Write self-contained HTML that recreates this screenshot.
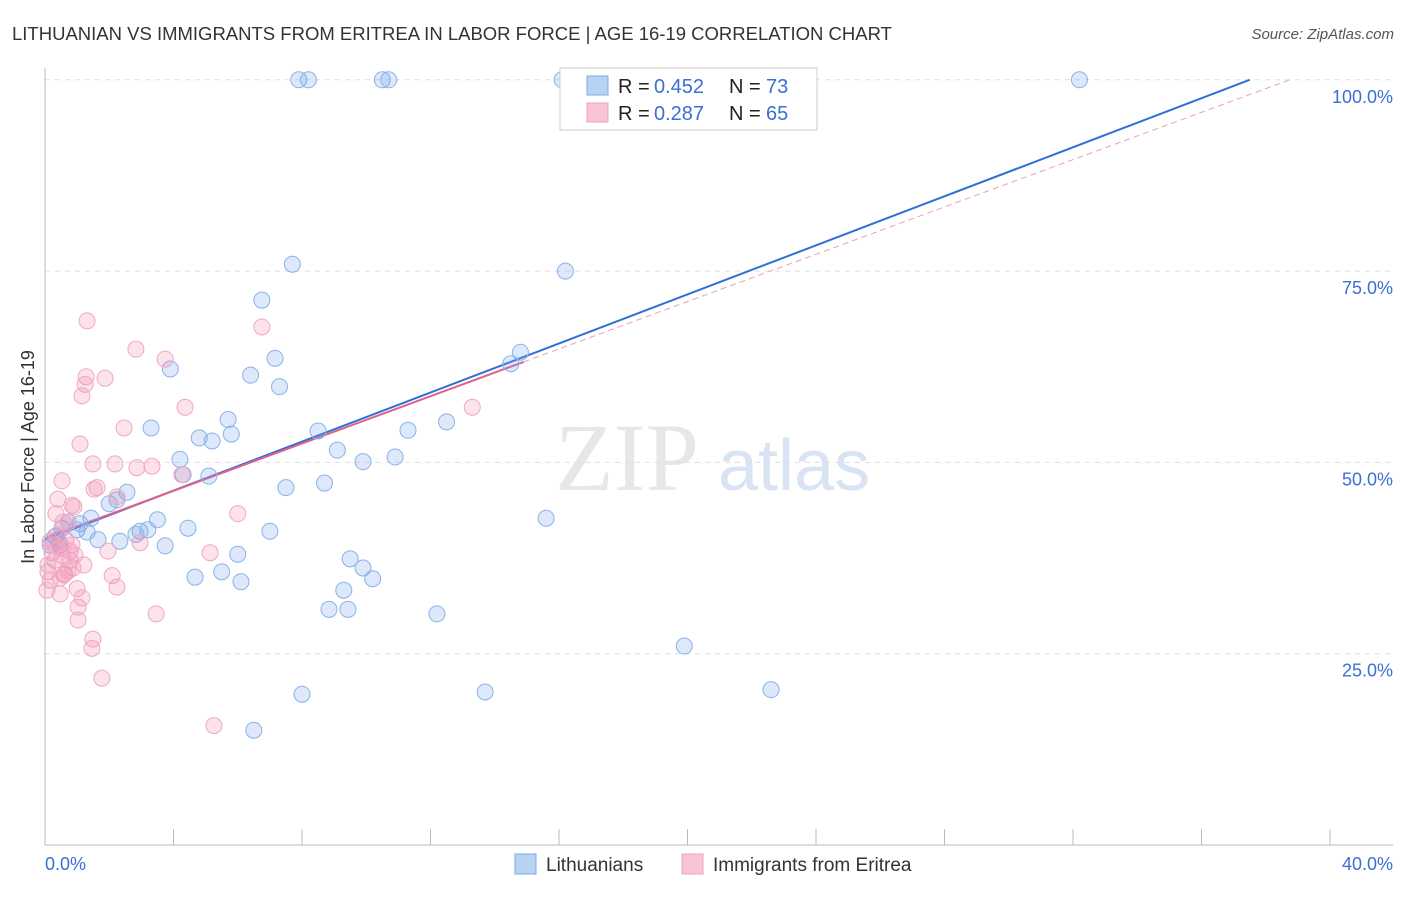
<!DOCTYPE html>
<html><head><meta charset="utf-8"><style>
body{margin:0;background:#fff;font-family:"Liberation Sans",sans-serif}
</style></head><body>
<svg id="chart" width="1406" height="892" xmlns="http://www.w3.org/2000/svg" font-family="Liberation Sans, sans-serif">
<text x="12" y="40" font-size="18.5" fill="#333">LITHUANIAN VS IMMIGRANTS FROM ERITREA IN LABOR FORCE | AGE 16-19 CORRELATION CHART</text>
<text x="1394" y="39" font-size="15" fill="#555" font-style="italic" text-anchor="end">Source: ZipAtlas.com</text>
<g>
<text x="555" y="490" font-size="96" fill="#ddd" font-family="Liberation Serif, serif" opacity="0.7">ZIP</text>
<text x="718" y="490" font-size="72" fill="#c8d8f0" opacity="0.7">atlas</text>
</g>
<g id="grid"></g>
<g id="axes"></g>
<g id="lines"></g>
<g id="pts"></g>
<text transform="translate(34,457) rotate(-90)" font-size="18" fill="#333" text-anchor="middle">In Labor Force | Age 16-19</text>
<text x="45" y="870" font-size="18" fill="#3b6fd4">0.0%</text>
<text x="1393" y="870" font-size="18" fill="#3b6fd4" text-anchor="end">40.0%</text>
<g>
<rect x="560" y="68" width="257" height="62" fill="#fff" stroke="#ccc"/>
<rect x="587" y="76" width="21" height="19" fill="#b8d2f4" stroke="#7aa8e8"/>
<rect x="587" y="103" width="21" height="19" fill="#f9c4d4" stroke="#f0a0bc"/>
<text x="618" y="93" font-size="20" fill="#222">R =</text>
<text x="654" y="93" font-size="20" fill="#3b6fd4">0.452</text>
<text x="729" y="93" font-size="20" fill="#222">N =</text>
<text x="766" y="93" font-size="20" fill="#3b6fd4">73</text>
<text x="618" y="120" font-size="20" fill="#222">R =</text>
<text x="654" y="120" font-size="20" fill="#3b6fd4">0.287</text>
<text x="729" y="120" font-size="20" fill="#222">N =</text>
<text x="766" y="120" font-size="20" fill="#3b6fd4">65</text>
</g>
<g>
<rect x="515" y="854" width="21" height="20" fill="#b8d2f4" stroke="#7aa8e8"/>
<text x="546" y="871" font-size="19" fill="#333">Lithuanians</text>
<rect x="682" y="854" width="21" height="20" fill="#f9c4d4" stroke="#f0a0bc"/>
<text x="713" y="871" font-size="19" fill="#333">Immigrants from Eritrea</text>
</g>
</svg>
<script>
const yTicks=[25,50,75,100];
const yTickLabels=["25.0%","50.0%","75.0%","100.0%"];
const xTicks=[0,4,8,12,16,20,24,28,32,36,40];
const blueX=[7.9,8.2,10.5,10.7,16.1,19.0,20.8,22.6,32.2,7.7,16.2,6.75,7.16,14.8,14.5,3.9,6.4,7.3,5.7,3.3,5.8,4.8,5.2,8.5,11.3,12.5,9.1,10.9,9.9,4.2,5.1,4.3,7.5,8.7,2.55,2.24,2.0,15.6,3.5,1.43,4.45,7.0,0.72,1.09,1.0,1.31,3.2,2.96,2.83,1.65,2.33,0.31,0.47,3.74,6.0,9.5,9.9,4.67,5.5,6.1,10.2,9.3,8.84,9.43,12.2,19.9,22.6,13.7,8.0,6.5,0.16,0.4,0.53];
const blueY=[100,100,100,100,100,100,100,100,100,75.9,75.0,71.2,63.6,64.4,62.9,62.2,61.4,59.9,55.6,54.5,53.7,53.2,52.8,54.1,54.2,55.3,51.6,50.7,50.1,50.4,48.2,48.4,46.7,47.3,46.1,45.1,44.6,42.7,42.5,42.7,41.4,41.0,42.2,42.0,41.2,40.9,41.2,41.0,40.6,39.9,39.7,40.3,39.2,39.1,38.0,37.4,36.2,35.0,35.7,34.4,34.8,33.3,30.8,30.8,30.2,26.0,20.3,20.0,19.7,15.0,39.2,39.9,41.4];
const pinkX=[1.31,6.75,2.83,3.74,1.28,1.25,1.87,1.15,4.36,13.3,2.46,1.09,1.49,2.18,3.33,2.86,4.26,1.62,1.53,0.53,2.24,0.4,0.84,0.9,6.0,0.34,0.56,0.72,2.96,1.96,5.14,0.78,0.22,0.53,0.31,0.78,1.21,0.87,0.09,0.59,0.62,0.72,2.09,0.47,0.16,2.24,1.0,0.06,0.47,1.15,1.03,3.46,1.03,1.49,1.46,1.77,5.26,0.16,0.28,0.37,0.47,0.65,0.84,0.09,0.93];
const pinkY=[68.5,67.7,64.8,63.5,61.2,60.2,61.0,58.7,57.2,57.2,54.5,52.4,49.8,49.8,49.5,49.3,48.4,46.7,46.5,47.6,45.5,45.2,44.4,44.2,43.3,43.3,42.2,42.2,39.5,38.4,38.2,38.4,38.2,37.8,37.2,37.2,36.6,36.2,35.7,35.3,35.4,35.8,35.2,34.9,34.6,33.7,33.5,33.3,32.8,32.3,31.1,30.2,29.4,26.9,25.7,21.8,15.6,39.7,39.2,40.5,38.8,39.9,39.2,36.6,37.9];
const blueFit=[39.9,100,37.5];
const pinkFit=[40.1,14.9,38.75];
const NS="http://www.w3.org/2000/svg";
const X=v=>45+v*32.125, Y=v=>845-v*7.652;
function mk(tag,attrs,parent){const e=document.createElementNS(NS,tag);for(const k in attrs)e.setAttribute(k,attrs[k]);document.getElementById(parent).appendChild(e);return e;}
yTicks.forEach((t,i)=>{
 const g=mk('line',{x1:45,x2:1393,y1:Y(t),y2:Y(t),stroke:'#ddd','stroke-dasharray':'5,5'},'grid');
 
 
 const l=mk('text',{x:1393,y:Y(t)+23,'font-size':18,fill:'#3b6fd4','text-anchor':'end'},'grid');
 
 
 l.textContent=yTickLabels[i];
});
const ax=mk('line',{x1:45,x2:45,y1:68,y2:845,stroke:'#bbb'},'axes');


const bx=mk('line',{x1:45,x2:1393,y1:845,y2:845,stroke:'#bbb'},'axes');


xTicks.forEach(t=>{
 const tk=mk('line',{x1:X(t),x2:X(t),y1:829,y2:845,stroke:'#bbb'},'axes');
 
 
});
function pts(xs,ys,fill,stroke,name){
 xs.forEach((x,i)=>{
  const c=mk('circle',{cx:X(x),cy:Y(ys[i]),r:8,fill:fill,stroke:stroke,'stroke-width':1},'pts');
  
  
 });
}
pts(blueX,blueY,'rgba(120,165,235,0.25)','#8ab2ea','lithuanian-point');
pts(pinkX,pinkY,'rgba(240,140,175,0.25)','#f2a8c2','eritrea-point');
const ps=(100-pinkFit[0])/pinkFit[2];
const pd=mk('line',{x1:X(pinkFit[1]),y1:Y(pinkFit[0]+ps*pinkFit[1]),x2:X(pinkFit[2]),y2:Y(100),stroke:'#e9a0b8','stroke-width':1,'stroke-dasharray':'6,4'},'lines');


const bl=mk('line',{x1:X(0),y1:Y(blueFit[0]),x2:X(blueFit[2]),y2:Y(blueFit[1]),stroke:'#2f6fd6','stroke-width':2},'lines');


const pl=mk('line',{x1:X(0),y1:Y(pinkFit[0]),x2:X(pinkFit[1]),y2:Y(pinkFit[0]+ps*pinkFit[1]),stroke:'#e0608a','stroke-width':2},'lines');


</script>
</body></html>
